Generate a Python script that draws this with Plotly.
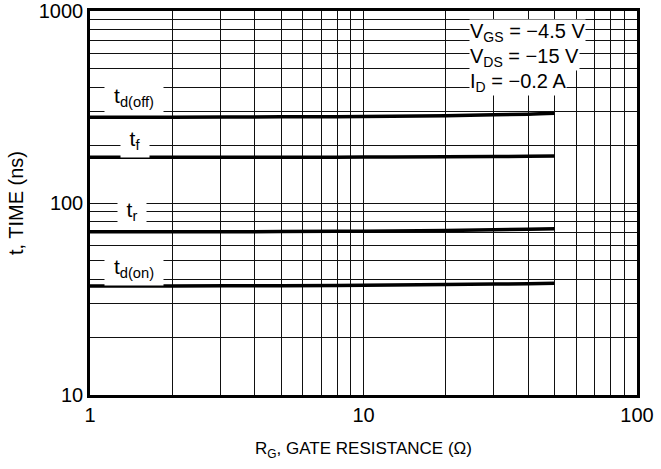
import math
import plotly.graph_objects as go

# Data
rg = [1, 2, 5, 10, 20, 30, 40, 50]
td_off = [280, 280, 281, 282, 285, 288, 290, 293]
t_f = [173, 173, 173, 173.5, 174, 174.5, 175, 175.5]
t_r = [70.8, 70.8, 71, 71.3, 72, 72.6, 73, 73.4]
td_on = [37.0, 37.0, 37.1, 37.3, 37.6, 37.8, 38.0, 38.2]

series_labels = ["t<sub>d(off)</sub>", "t<sub>f</sub>", "t<sub>r</sub>", "t<sub>d(on)</sub>"]
label_x = [1.45, 1.46, 1.42, 1.45]
label_y = [355, 212, 90.5, 46.0]
label_w = [50, 20, 20, 50]

cond_lines = ["V<sub>GS</sub> = −4.5 V", "V<sub>DS</sub> = −15 V", "I<sub>D</sub> = −0.2 A"]

x_major = [1, 10, 100]
x_minor = [m * d for d in (1, 10) for m in range(2, 10)]
y_major = [10, 100, 1000]
y_minor = [m * d for d in (10, 100) for m in range(2, 10)]

FONT = "Liberation Sans, Arial, sans-serif"

fig = go.Figure()
for ys in (td_off, t_f, t_r, td_on):
    fig.add_trace(go.Scatter(x=rg, y=ys, mode="lines",
                             line=dict(color="black", width=3.5, shape="spline"),
                             showlegend=False, hoverinfo="skip"))

for txt, lx, ly, w in zip(series_labels, label_x, label_y, label_w):
    fig.add_annotation(x=math.log10(lx), y=math.log10(ly), xref="x", yref="y",
                       text=txt, showarrow=False, bgcolor="white", borderpad=4,
                       width=w, align="center",
                       font=dict(family=FONT, size=21, color="black"))

for i, txt in enumerate(cond_lines):
    fig.add_annotation(x=0.693, y=0.944 - i * 0.0655, xref="paper", yref="paper",
                       xanchor="left", yanchor="middle",
                       text=txt, showarrow=False, bgcolor="white", borderpad=0,
                       font=dict(family=FONT, size=20, color="black"))

axis_common = dict(
    type="log", showline=True, linecolor="black", linewidth=2.5, mirror=True,
    showgrid=True, gridcolor="#111", gridwidth=1, ticks="", zeroline=False,
    automargin=False,
    tickfont=dict(family=FONT, size=20, color="black"),
)

fig.update_xaxes(
    **axis_common,
    range=[0, 2],
    tickvals=x_major, ticktext=[str(v) for v in x_major],
    minor=dict(tickvals=x_minor, showgrid=True, gridcolor="#111", gridwidth=1, ticks=""),
    title=dict(text="R<sub>G</sub>, GATE RESISTANCE (Ω)", standoff=18,
               font=dict(family=FONT, size=17, color="black")),
)
fig.update_yaxes(
    **axis_common,
    range=[1, 3],
    tickvals=y_major, ticktext=[str(v) for v in y_major],
    minor=dict(tickvals=y_minor, showgrid=True, gridcolor="#111", gridwidth=1, ticks=""),
    title=dict(text="t, TIME (ns)", standoff=10,
               font=dict(family=FONT, size=20, color="black")),
)

fig.update_layout(
    width=661, height=469,
    margin=dict(l=90, r=24, t=11, b=74),
    plot_bgcolor="white", paper_bgcolor="white",
    font=dict(family=FONT, size=18, color="black"),
)

fig.write_html("out.html", config={"displayModeBar": False},
               post_script="document.body.style.margin='0';")
